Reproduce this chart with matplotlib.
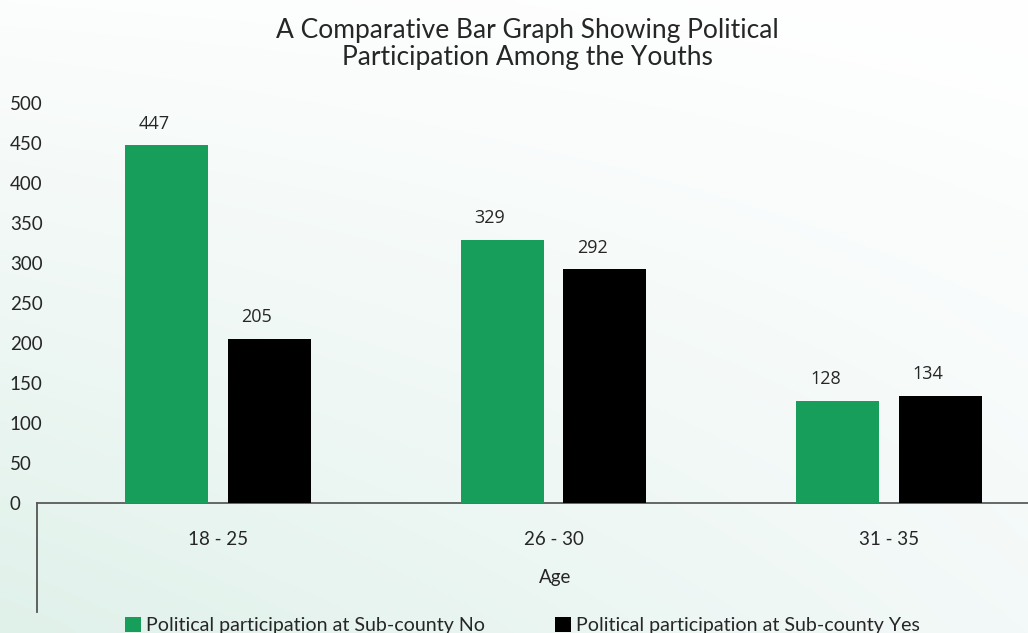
import numpy as np
import matplotlib
matplotlib.use('Agg')
import matplotlib.pyplot as plt
from matplotlib.lines import Line2D
from matplotlib.patches import Patch
from matplotlib.colors import to_rgb

# data
ages = ['18 - 25', '26 - 30', '31 - 35']
no_vals = [447, 329, 128]
yes_vals = [205, 292, 134]
series_names = ['Political participation at Sub-county No',
                'Political participation at Sub-county Yes']
yticks = [0, 50, 100, 150, 200, 250, 300, 350, 400, 450, 500]

green = '#179e5a'
black = '#000000'
txt = '#262626'

plt.rcParams['font.family'] = ['Lato', 'DejaVu Sans']

W, H = 1028, 633
fig = plt.figure(figsize=(W / 100, H / 100), dpi=100)

# gradient background (greenish bottom-left, white top-right)
bg = fig.add_axes([0, 0, 1, 1], zorder=-10)
bg.axis('off')
ny, nx = 100, 160
yy, xx = np.mgrid[0:1:ny * 1j, 0:1:nx * 1j]   # yy=0 top, 1 bottom
tl, tr = np.array(to_rgb('#fcfdfd')), np.array(to_rgb('#ffffff'))
bl, br = np.array(to_rgb('#e0f1ea')), np.array(to_rgb('#f3f9f8'))
img = ((1 - yy)[..., None] * ((1 - xx)[..., None] * tl + xx[..., None] * tr)
       + yy[..., None] * ((1 - xx)[..., None] * bl + xx[..., None] * br))
bg.imshow(img, aspect='auto', extent=[0, 1, 0, 1], interpolation='bicubic')
bg.set_xlim(0, 1)
bg.set_ylim(0, 1)

ax = fig.add_axes([37 / W, 130 / H, 1 - 37 / W, 400 / H])
ax.set_facecolor('none')

x = np.arange(len(ages))
bw = 0.247
off = 0.153
b1 = ax.bar(x - off, no_vals, bw, color=green, label=series_names[0], zorder=3)
b2 = ax.bar(x + off, yes_vals, bw, color=black, label=series_names[1], zorder=3)

for bars in (b1, b2):
    for r in bars:
        v = r.get_height()
        ax.annotate(f'{v:g}', (r.get_x() + r.get_width() / 2, v),
                    xytext=(-9, 9), textcoords='offset points',
                    ha='center', va='bottom', fontsize=13, color=txt,
                    family=['Open Sans', 'DejaVu Sans'])

ax.set_xlim(-0.539, 2.414)
ax.set_ylim(0, 500)
ax.set_xticks(x)
ax.set_xticklabels(ages, fontsize=13.5, color=txt)
ax.set_yticks(yticks)
ax.set_yticklabels([str(t) for t in yticks], fontsize=13.5, color=txt)
for lab in ax.get_yticklabels():
    lab.set_horizontalalignment('left')
ax.tick_params(axis='y', length=0, pad=19.5)
ax.tick_params(axis='x', length=0, pad=20)

for s in ('left', 'top', 'right'):
    ax.spines[s].set_visible(False)
ax.spines['bottom'].set_color('#404040')
ax.spines['bottom'].set_linewidth(1.1)

ax.set_xlabel('Age', fontsize=13.5, color=txt)
ax.xaxis.set_label_coords(0.523, -0.165)

# vertical rule below the baseline
fig.add_artist(Line2D([37 / W, 37 / W], [130 / H, 21 / H],
                      transform=fig.transFigure, color='#555555', lw=1.3))

fig.text(527 / W, 1 - 18 / H,
         'A Comparative Bar Graph Showing Political\nParticipation Among the Youths',
         ha='center', va='top', fontsize=19, color=txt, linespacing=1.08)

# legend entries
for name, col, xpos in ((series_names[0], green, 125), (series_names[1], black, 555)):
    fig.legend(handles=[Patch(facecolor=col, edgecolor='none', label=name)],
               loc='upper left', bbox_to_anchor=(xpos / W, 1 - 617 / H),
               frameon=False, fontsize=14.1, handlelength=0.8, handleheight=0.8,
               handletextpad=0.25, borderpad=0, borderaxespad=0,
               labelcolor=txt)

fig.savefig('out.png', dpi=100)
